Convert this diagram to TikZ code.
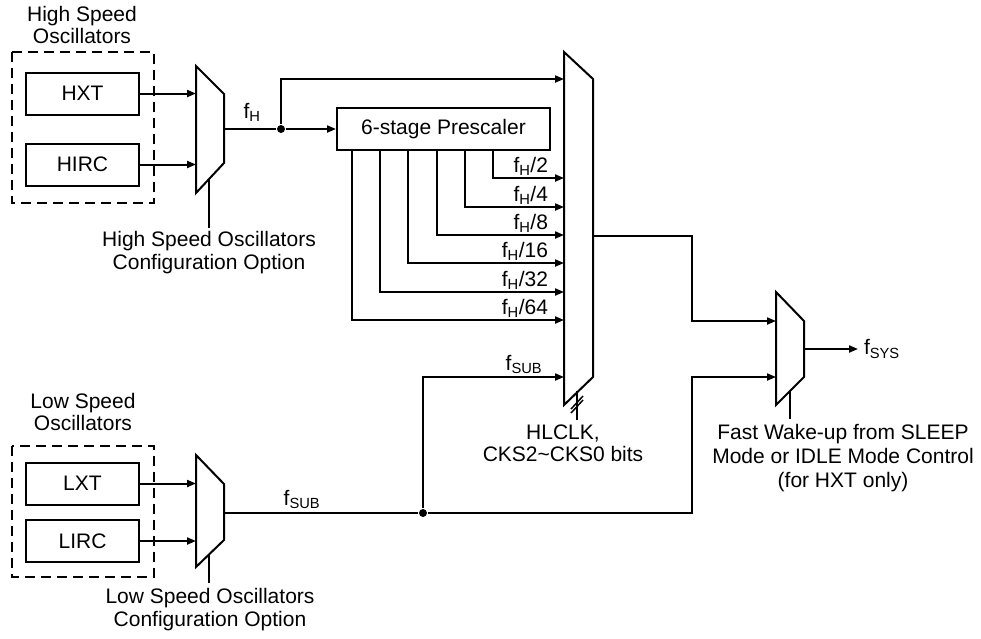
\documentclass[tikz,border=0pt]{standalone}
\usepackage{fontspec}
\setmainfont{Liberation Sans}
\usetikzlibrary{arrows.meta}
\newcommand\lowr[1]{\textsubscript{#1}}
\begin{document}
\begin{tikzpicture}[x=1pt,y=-1pt, line width=2pt,
 every node/.style={font=\fontsize{21}{22}\selectfont, inner sep=0pt},
 osc/.style={draw, minimum width=113pt, minimum height=42pt},
 grp/.style={draw, dash pattern=on 10pt off 6pt, line width=1.8pt},
 arr/.style={-{Triangle[length=9pt,width=7pt]}},
 mux/.style={draw, line join=miter},
 dot/.style={circle, fill, minimum size=8pt, inner sep=0pt},
 lbl/.style={align=center}]
\useasboundingbox (0,0) rectangle (981,638);

% oscillator groups
\node[osc] (hxt) at (82.5,93.5) {HXT};
\node[osc] (hirc) at (82.5,164.5) {HIRC};
\node[osc] (lxt) at (82.5,483.5) {LXT};
\node[osc] (lirc) at (82.5,541) {LIRC};
\draw[grp] (12,52) rectangle (154,203);
\draw[grp] (12,446) rectangle (154,577);
\node[lbl] (hsl) at (82,25) {High Speed\\Oscillators};
\node[lbl] (lsl) at (83,412) {Low Speed\\Oscillators};

% mux 1 (high speed)
\draw[mux] (196,66) -- (224,94) -- (224,163) -- (196,193) -- cycle;
\coordinate (m1a) at (196,94);
\coordinate (m1b) at (196,164);
\coordinate (m1out) at (224,129);
\coordinate (m1c) at (209,179);
\coordinate (m1ce) at (209,228);
\draw[arr] (hxt) -- (hxt -| m1a);
\draw[arr] (hirc) -- (hirc -| m1b);
\draw (m1c) -- (m1ce);
\node[lbl, anchor=north] (hcfg) at (209,230) {High Speed Oscillators\\[1pt]Configuration Option};

% mux 2 (low speed)
\draw[mux] (196,455) -- (224,484) -- (224,540) -- (196,567) -- cycle;
\coordinate (m2a) at (196,484);
\coordinate (m2b) at (196,540);
\coordinate (m2out) at (224,513);
\coordinate (m2c) at (209,554.5);
\coordinate (m2ce) at (209,583);
\draw[arr] (lxt) -- (lxt -| m2a);
\draw[arr] (lirc) -- (lirc -| m2b);
\draw (m2c) -- (m2ce);
\node[lbl, anchor=north] (lcfg) at (210,587) {Low Speed Oscillators\\[1pt]Configuration Option};

% prescaler
\node[draw, minimum width=213pt, minimum height=42pt] (pre) at (443.5,129) {6-stage Prescaler};
\node[dot] (j1) at (281,129) {};
\coordinate (bin0) at (564,79);
\draw (m1out) -- (j1);
\draw[arr] (j1) -- (pre);
\draw[arr] (j1) |- (bin0);
\node[anchor=base] (fh) at (252,118) {f\lowr{H}};

\foreach \x/\y/\t in {493/178/2,465/207/4,437/235/8,408/263/16,380/292/32,352/320/64} {
  \coordinate (tap\t) at (\x,150);
  \coordinate (bin\t) at (564,\y);
  \draw[arr] (tap\t) |- (bin\t);
  \node[anchor=base east] (lab\t) at (549,\y-6) {f\lowr{H}/\t};
}

% big mux
\draw[mux] (564,52) -- (593,79) -- (593,377) -- (564,405) -- cycle;
\coordinate (bout) at (593,236);
\coordinate (bc) at (577,391);
\coordinate (bce) at (577,420);
\draw (bc) -- (bce);
\draw[line width=1.5pt] (571,409) -- (583,396);
\draw[line width=1.5pt] (571,413) -- (583,400);
\node[lbl, anchor=north] (hlclk) at (563,424) {HLCLK,\\CKS2\textasciitilde CKS0 bits};

% fsub
\node[dot] (j2) at (423,513) {};
\coordinate (binsub) at (564,377);
\draw (m2out) -- (j2);
\draw[arr] (j2) |- (binsub);
\node[anchor=base] (fsub1) at (524,370) {f\lowr{SUB}};
\node[anchor=base] (fsub2) at (302,505) {f\lowr{SUB}};

% final mux
\draw[mux] (776,292) -- (804,321) -- (804,377) -- (776,405) -- cycle;
\coordinate (fa) at (776,321);
\coordinate (fb) at (776,377);
\coordinate (fout) at (804,349);
\coordinate (fend) at (858,349);
\coordinate (k1) at (692,236);
\coordinate (k2) at (692,513);
\draw[arr] (bout) -- (k1) |- (fa);
\draw[arr] (j2) -- (k2) |- (fb);
\draw[arr] (fout) -- (fend);
\node[anchor=west] (fsys) at (863,349) {f\lowr{SYS}};
\coordinate (fc) at (790,391);
\coordinate (fce) at (790,419);
\draw (fc) -- (fce);
\node[lbl, anchor=north] (wake) at (843,423) {Fast Wake-up from SLEEP\\[2pt]Mode or IDLE Mode Control\\[2pt](for HXT only)};
\end{tikzpicture}
\end{document}
